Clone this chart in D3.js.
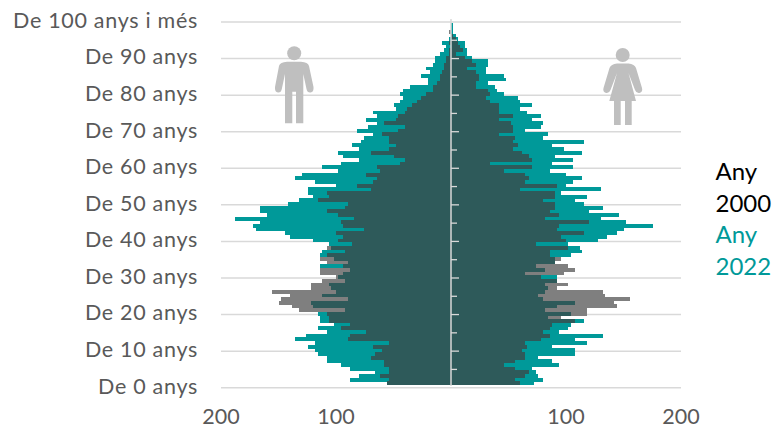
<!DOCTYPE html>
<html>
<head>
<meta charset="utf-8">
<script src="https://cdn.jsdelivr.net/npm/d3@7"></script>
<style>
body { margin: 0; background: #fff; }
text { font-family: Lato, sans-serif; }
</style>
</head>
<body>
<div id="chart"></div>
<script>
// one value per row, bottom row first
var men2000 = [56,54,62,54,54,58,58,70,66,60,68,54,90,88,74,96,88,106,106,108,
  132,138,150,148,140,156,122,122,112,100,114,114,94,108,114,108,92,108,86,
  98,94,100,76,94,96,84,98,108,92,90,116,106,108,70,82,68,64,74,62,64,44,40,50,70,54,48,54,54,60,
  46,40,58,48,46,40,38,34,30,26,22,16,16,12,10,10,8,6,6,4,4,2,2,0,2,0,0,2,0,0,0];
var men2022 = [56,88,80,66,88,96,108,108,116,118,124,118,136,126,108,116,102,114,114,116,
  92,120,122,90,112,100,104,106,92,98,94,88,114,90,102,114,112,104,106,
  120,140,144,170,172,166,188,160,166,166,142,132,120,124,124,100,118,136,130,98,112,96,80,94,98,80,86,78,76,68,
  82,72,64,74,64,68,48,50,44,42,44,42,36,20,20,26,18,22,16,14,14,10,6,4,8,2,0,0,0,0,0];
var women2000 = [60,56,64,68,56,46,56,64,64,62,66,64,78,86,80,86,88,108,
  96,118,118,144,142,156,134,132,92,102,92,78,98,108,102,90,96,
  86,86,102,74,100,96,116,92,94,120,82,94,86,90,90,80,90,90,60,92,64,68,64,46,70,34,70,68,62,54,
  58,54,56,42,54,54,52,42,54,42,42,42,34,30,34,32,22,22,24,24,22,14,22,18,12,4,10,8,6,4,2,0,0,0,0];
var women2022 = [72,80,76,74,70,94,88,76,108,108,88,118,108,132,94,102,104,116,
  84,104,82,92,108,80,76,82,84,82,92,92,64,82,74,90,90,
  104,114,112,102,128,136,144,150,176,152,130,146,120,132,116,108,118,96,130,100,106,114,100,86,106,88,106,90,114,98,
  88,116,80,84,64,78,80,70,78,66,60,70,60,58,46,40,38,32,48,46,30,30,32,32,18,14,14,12,12,6,4,2,2,2,0];

var ageTicks = [0,10,20,30,40,50,60,70,80,90,100];
var ageLabels = ['De 0 anys','De 10 anys','De 20 anys','De 30 anys','De 40 anys','De 50 anys',
  'De 60 anys','De 70 anys','De 80 anys','De 90 anys','De 100 anys i més'];
var popTicks = [100,200];
var legendLines = ['Any','2000','Any','2022'];

var width = 776;
var height = 428;
var center = 451;

var teal = '#009999', grey = '#7f7f7f', dark = '#2e5a5a', rule = '#d9d9d9', label = '#595959';

var svg = d3.select('#chart').append('svg')
  .attr('width', width)
  .attr('height', height)
  .attr('viewBox', [0, 0, width, height]);

var xL = d3.scaleLinear().domain([0, 200]).range([center, 221]);
var xR = d3.scaleLinear().domain([0, 200]).range([center, 681]);
var yAge = d3.scaleLinear().domain([0, 100]).range([387.7, 22]);
var yRow = d3.scaleBand().domain(d3.range(men2000.length)).range([385, 19]);

// gridlines
svg.append('g').selectAll('line')
  .data(ageTicks)
  .join('line')
  .attr('x1', xL(200))
  .attr('x2', xR(200))
  .attr('y1', d => yAge(d))
  .attr('y2', d => yAge(d))
  .attr('stroke', rule)
  .attr('stroke-width', 1.5);

// teal and grey first, the overlap goes on top in the dark colour
function side(a, b, x) {
  var g = svg.append('g').attr('shape-rendering', 'crispEdges');
  function bars(vals, col) {
    g.append('g').attr('fill', col).selectAll('rect')
      .data(vals)
      .join('rect')
      .attr('x', d => Math.min(x(0), x(d)))
      .attr('y', (d, i) => yRow(i))
      .attr('width', d => Math.abs(x(d) - x(0)))
      .attr('height', yRow.bandwidth() + 0.2);
  }
  bars(a, grey);
  bars(b, teal);
  bars(a.map((d, i) => Math.min(d, b[i])), dark);
}
side(men2000, men2022, xL);
side(women2000, women2022, xR);

// centre axis, ticks run to the right only
svg.append('line')
  .attr('x1', center).attr('x2', center)
  .attr('y1', 19).attr('y2', 386)
  .attr('stroke', rule).attr('stroke-width', 1.5);
svg.append('g').selectAll('line')
  .data(d3.range(5, 100, 5))
  .join('line')
  .attr('x1', center)
  .attr('x2', d => center + (d % 10 == 0 ? 8 : 6))
  .attr('y1', d => yAge(d))
  .attr('y2', d => yAge(d))
  .attr('stroke', rule)
  .attr('stroke-width', 1.3);

// age labels
svg.append('g')
  .attr('transform', 'translate(198,-2.2)')
  .call(d3.axisLeft(yAge).tickValues(ageTicks).tickSize(0).tickPadding(0)
    .tickFormat((d, i) => ageLabels[i]))
  .call(g => g.select('.domain').remove())
  .call(g => g.selectAll('text')
    .attr('font-size', '21.5px')
    .attr('fill', label)
    .attr('dy', '0.35em')
    .style('letter-spacing', '0.7px')
    .style('font-family', 'Lato, sans-serif'));

// population labels
function popAxis(x) {
  svg.append('g')
    .attr('transform', 'translate(-0.5,424)')
    .call(d3.axisBottom(x).tickValues(popTicks).tickSize(0).tickPadding(0))
    .call(g => g.select('.domain').remove())
    .call(g => g.selectAll('text')
      .attr('font-size', '21.5px')
      .attr('fill', label)
      .attr('y', 0)
      .attr('dy', 0)
      .style('font-family', 'Lato, sans-serif'));
}
popAxis(xL);
popAxis(xR);

// legend
svg.append('g').selectAll('text')
  .data(legendLines)
  .join('text')
  .attr('x', 715.5)
  .attr('y', (d, i) => 180 + i * 31.7)
  .attr('font-size', '24px')
  .attr('fill', (d, i) => i < 2 ? '#000' : teal)
  .text(d => d);

// figures
svg.append('circle').attr('cx', 294.2).attr('cy', 53.3).attr('r', 7).attr('fill', '#bfbfbf');
svg.append('path').attr('fill', '#bfbfbf')
  .attr('d', 'M287 61.7Q280 62 279 66L275 87Q274.5 92 278 92.5Q281 92.8 281.8 89L285 74V123.3H292.3V91.7H296V123.3H303.3V74L306.5 89Q307.3 92.8 310.5 92.5Q314 92 313.5 87L309 66Q308 62 301 61.7Z');
svg.append('circle').attr('cx', 622.7).attr('cy', 55).attr('r', 7).attr('fill', '#bfbfbf');
svg.append('path').attr('fill', '#bfbfbf')
  .attr('d', 'M617 63.5Q611 64 609.5 68L603.5 88Q602.5 92 606 93Q609 93.7 610.5 90L617 73L609.3 101H614V125H620.7V101H625V125H631.7V101H636L628.5 73L635 90Q636.5 93.7 639.5 93Q643 92 642 88L636 68Q634.5 64 628.5 63.5Z');
</script>
</body>
</html>
